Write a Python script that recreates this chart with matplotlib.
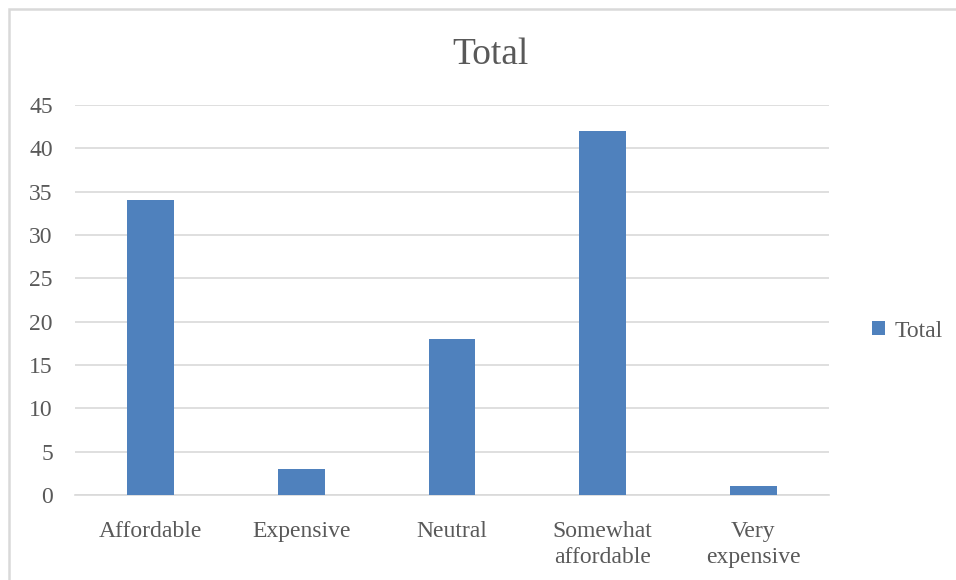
import numpy as np
import matplotlib.pyplot as plt
from matplotlib.patches import Rectangle

categories = ["Affordable", "Expensive", "Neutral", "Somewhat\naffordable", "Very\nexpensive"]
totals = [34, 3, 18, 42, 1]
yticks = list(range(0, 50, 5))

plt.rcParams['font.family'] = ['Liberation Serif', 'DejaVu Serif']
txt = '#595959'
grid = '#D9D9D9'

fig = plt.figure(figsize=(9.56, 5.8), dpi=100)
# chart frame (only left and top edges fall inside the picture)
fig.patches.append(Rectangle((8.5 / 956, -0.05), 1.2, 1 - 8.5 / 580 + 0.05,
                             transform=fig.transFigure, fill=False,
                             edgecolor=grid, linewidth=1.8, zorder=0))

ax = fig.add_axes([0.0785, 0.1466, 0.7885, 0.6724])
x = np.arange(len(categories))
ax.bar(x, totals, width=0.31, color='#4F81BD', label='Total', zorder=3)

ax.set_ylim(0, 45)
ax.set_xlim(-0.5, len(categories) - 0.5)
ax.set_yticks(yticks)
ax.set_xticks(x)
ax.set_xticklabels(categories, linespacing=1.3)
ax.tick_params(axis='both', length=0, colors=txt, labelsize=17)
ax.tick_params(axis='x', pad=19)
ax.tick_params(axis='y', pad=16)
ax.grid(axis='y', color=grid, linewidth=1.2, zorder=0)
for s in ['top', 'right', 'left']:
    ax.spines[s].set_visible(False)
ax.spines['bottom'].set_color(grid)
ax.spines['bottom'].set_linewidth(1.2)

fig.text(0.513, 0.905, 'Total', ha='center', va='center', fontsize=27, color=txt)
ax.legend(loc='center left', bbox_to_anchor=(1.045, 0.42), frameon=False, fontsize=17,
          labelcolor=txt, handlelength=0.55, handleheight=0.55, handletextpad=0.4,
          borderaxespad=0.0)

fig.savefig('out.png', dpi=100)
